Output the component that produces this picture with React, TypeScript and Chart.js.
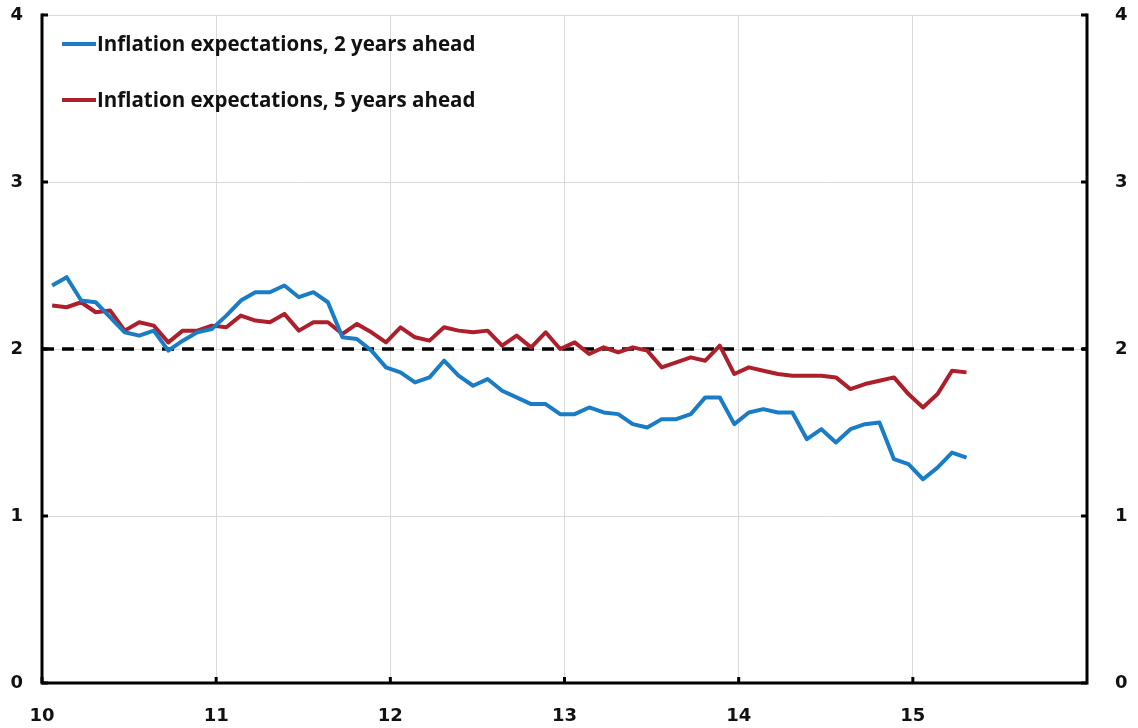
import React, { useEffect, useRef } from "react";
import { Chart, registerables } from "chart.js";

Chart.register(...registerables);

// Monthly observations, Jan 2010 .. Apr 2015
const startYear = 2010;

const twoYearsAhead = [
  2.38, 2.43, 2.29, 2.28, 2.19, 2.10, 2.08, 2.11, 1.99, 2.05, 2.10, 2.12,
  2.20, 2.29, 2.34, 2.34, 2.38, 2.31, 2.34, 2.28, 2.07, 2.06, 1.99, 1.89,
  1.86, 1.80, 1.83, 1.93, 1.84, 1.78, 1.82, 1.75, 1.71, 1.67, 1.67, 1.61,
  1.61, 1.65, 1.62, 1.61, 1.55, 1.53, 1.58, 1.58, 1.61, 1.71, 1.71, 1.55,
  1.62, 1.64, 1.62, 1.62, 1.46, 1.52, 1.44, 1.52, 1.55, 1.56, 1.34, 1.31,
  1.22, 1.29, 1.38, 1.35,
];

const fiveYearsAhead = [
  2.26, 2.25, 2.28, 2.22, 2.23, 2.11, 2.16, 2.14, 2.04, 2.11, 2.11, 2.14,
  2.13, 2.20, 2.17, 2.16, 2.21, 2.11, 2.16, 2.16, 2.09, 2.15, 2.10, 2.04,
  2.13, 2.07, 2.05, 2.13, 2.11, 2.10, 2.11, 2.02, 2.08, 2.01, 2.10, 2.00,
  2.04, 1.97, 2.01, 1.98, 2.01, 1.99, 1.89, 1.92, 1.95, 1.93, 2.02, 1.85,
  1.89, 1.87, 1.85, 1.84, 1.84, 1.84, 1.83, 1.76, 1.79, 1.81, 1.83, 1.73,
  1.65, 1.73, 1.87, 1.86,
];

const targetLevel = 2;
const xTickValues = [10, 11, 12, 13, 14, 15];
const yTickValues = [0, 1, 2, 3, 4];
const seriesLabels = [
  "Inflation expectations, 2 years ahead",
  "Inflation expectations, 5 years ahead",
];

const BLUE = "#1a7cc4";
const RED = "#ad1f2b";
const TICK_FONT = { family: "'DejaVu Sans', Verdana, sans-serif", size: 18, weight: "bold" as const };

// x position (two-digit year) of each monthly observation
function monthX(i: number): number {
  return startYear - 2000 + (i + 0.7) / 12;
}

function toPoints(values: number[]) {
  return values.map((v, i) => ({ x: monthX(i), y: v }));
}

const frameAndLegend = {
  id: "frameAndLegend",
  afterDraw(chart: any) {
    const ctx = chart.ctx;
    const { left, right, top, bottom } = chart.chartArea;
    const xs = chart.scales.x;
    const ys = chart.scales.y;
    ctx.save();
    ctx.strokeStyle = "#000";
    ctx.lineWidth = 3;
    ctx.lineCap = "square";
    ctx.beginPath();
    ctx.moveTo(left, top);
    ctx.lineTo(left, bottom);
    ctx.lineTo(right, bottom);
    ctx.lineTo(right, top);
    ctx.stroke();
    ctx.lineCap = "butt";
    ctx.beginPath();
    yTickValues.forEach((v) => {
      const y = ys.getPixelForValue(v);
      ctx.moveTo(left, y);
      ctx.lineTo(left + 6, y);
      ctx.moveTo(right, y);
      ctx.lineTo(right - 6, y);
    });
    xTickValues.forEach((v) => {
      const x = xs.getPixelForValue(v);
      ctx.moveTo(x, bottom);
      ctx.lineTo(x, bottom - 6);
    });
    ctx.stroke();

    const rows = [
      { label: seriesLabels[0], color: BLUE, y: 44 },
      { label: seriesLabels[1], color: RED, y: 100 },
    ];
    ctx.font = "bold 20.5px 'Open Sans', 'Noto Sans', sans-serif";
    ctx.textBaseline = "middle";
    ctx.textAlign = "left";
    rows.forEach((r) => {
      ctx.strokeStyle = r.color;
      ctx.lineWidth = 4;
      ctx.beginPath();
      ctx.moveTo(62, r.y);
      ctx.lineTo(96, r.y);
      ctx.stroke();
      ctx.fillStyle = "#111";
      ctx.fillText(r.label, 97, r.y + 1);
    });
    ctx.restore();
  },
};

export default function App() {
  const canvasRef = useRef<HTMLCanvasElement | null>(null);

  useEffect(() => {
    document.body.style.margin = "0";
    const canvas = canvasRef.current;
    if (!canvas) return;
    const yFit = (w: number) => (scale: any) => {
      scale.width = w;
      scale.paddingTop = 0;
      scale.paddingBottom = 0;
    };
    const chart = new Chart(canvas, {
      type: "line",
      data: {
        datasets: [
          {
            label: "target",
            data: [
              { x: 10, y: targetLevel },
              { x: 16, y: targetLevel },
            ],
            borderColor: "#000",
            borderWidth: 3.5,
            borderDash: [12, 8],
            pointRadius: 0,
            order: 3,
          },
          {
            label: seriesLabels[1],
            data: toPoints(fiveYearsAhead),
            borderColor: RED,
            borderWidth: 4,
            pointRadius: 0,
            borderJoinStyle: "round",
            order: 2,
          },
          {
            label: seriesLabels[0],
            data: toPoints(twoYearsAhead),
            borderColor: BLUE,
            borderWidth: 4,
            pointRadius: 0,
            borderJoinStyle: "round",
            order: 1,
          },
        ],
      },
      options: {
        responsive: false,
        animation: false,
        layout: { padding: { top: 15, left: 0, right: 0, bottom: 0 } },
        plugins: {
          legend: { display: false },
          tooltip: { enabled: false },
        },
        scales: {
          x: {
            type: "linear",
            min: 10,
            max: 16,
            afterBuildTicks: (scale: any) => {
              scale.ticks = xTickValues.concat([16]).map((v) => ({ value: v }));
            },
            ticks: {
              color: "#111",
              font: TICK_FONT,
              padding: 23,
              maxRotation: 0,
              callback: (v: any) => (v === 16 ? "" : String(v)),
            },
            grid: { color: "#d9d9d9", lineWidth: 1, drawTicks: false },
            border: { display: false },
            afterFit: (scale: any) => {
              scale.height = 45;
              scale.paddingLeft = 0;
              scale.paddingRight = 0;
            },
          },
          y: {
            position: "left",
            min: 0,
            max: 4,
            afterBuildTicks: (scale: any) => {
              scale.ticks = yTickValues.map((v) => ({ value: v }));
            },
            ticks: { color: "#111", font: TICK_FONT, padding: 19 },
            grid: { color: "#d9d9d9", lineWidth: 1, drawTicks: false },
            border: { display: false },
            afterFit: yFit(42),
          },
          y2: {
            position: "right",
            min: 0,
            max: 4,
            afterBuildTicks: (scale: any) => {
              scale.ticks = yTickValues.map((v) => ({ value: v }));
            },
            ticks: { color: "#111", font: TICK_FONT, padding: 28 },
            grid: { display: false, drawTicks: false },
            border: { display: false },
            afterFit: yFit(51),
          },
        },
      },
      plugins: [frameAndLegend],
    });
    return () => chart.destroy();
  }, []);

  return (
    <div style={{ position: "absolute", left: 0, top: 0, width: 1138, height: 728, background: "#fff" }}>
      <canvas ref={canvasRef} width={1138} height={728} style={{ display: "block" }} />
    </div>
  );
}
